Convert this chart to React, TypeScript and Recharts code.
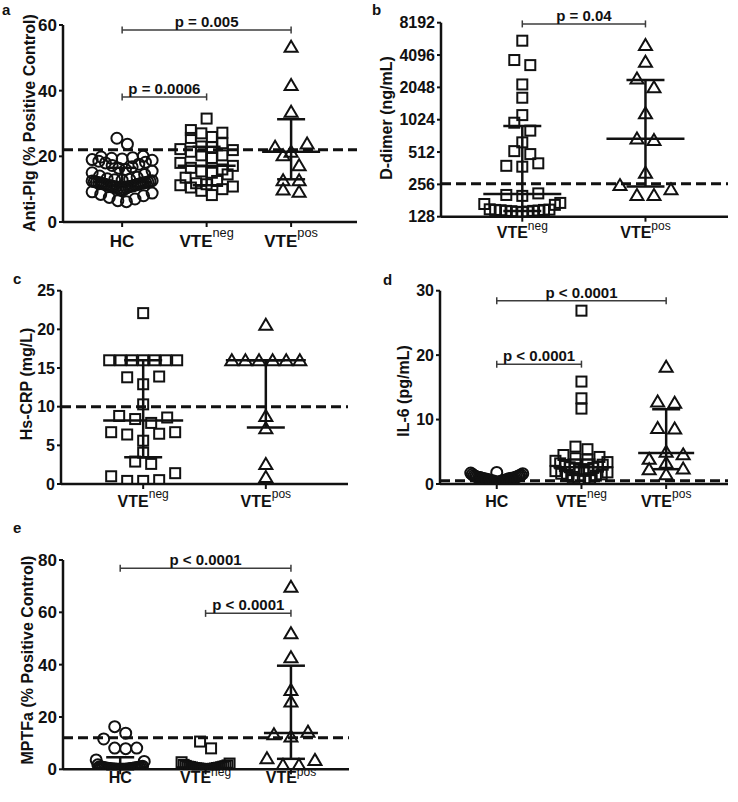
import React from "react";
import { ScatterChart, Scatter, XAxis, YAxis, ReferenceLine } from "recharts";

const FONT = '"Liberation Sans", Arial, Helvetica, sans-serif';
const INK = "#111";
const BRACKET = "#3c3c3c";

// x categories (shared by all panels)
const groupNames = ["HC", "VTE", "VTE"];
const groupSups = ["", "neg", "pos"];
const groupShapes = ["circle", "square", "triangle"];

// a: Anti-Plg (% positive control)
const aHc = [25.5, 23.7, 20, 19.8, 19.6, 19.4, 19.2, 19, 18.8, 18.5, 18.2, 18, 17.6, 17.2, 16.8, 16.4, 16, 15.5, 15, 14.5, 14, 13.6, 13.2, 13, 12.9, 12.8, 12.6, 12.5, 12.4, 12.3, 12.2, 12.1, 12, 12, 11.9, 11.8, 11.8, 11.7, 11.6, 11.5, 11.4, 11.3, 11.2, 11.1, 11, 11, 10.9, 10.8, 10.7, 10.6, 10.4, 10.2, 10, 9.8, 9.6, 9.2, 8.8, 8.4, 8, 7.5, 7, 6.5, 6.2];
const aVteNeg = [31.5, 28, 27.2, 27, 25.9, 25.6, 24, 23, 22.8, 22.2, 21.9, 21.4, 20.3, 20.3, 19.5, 18, 17.1, 16.5, 16, 15.4, 15, 14.5, 13.5, 12.5, 11.8, 11.5, 11.2, 10.8, 10.5, 10, 9.5, 8.2];
const aVtePos = [53.4, 41.7, 33.6, 23.9, 22.9, 21.4, 20.3, 17.3, 12.7, 12.7, 9.9, 9.2];
const aMedian = [12.2, 17.1, 21.4];
const aQ1 = [11, 11.2, 13];
const aQ3 = [16.5, 22.9, 31.3];

// b: D-dimer (ng/mL), log2 axis
const bVteNeg = [5570, 3680, 3300, 2180, 1640, 1130, 960, 810, 630, 522, 490, 402, 381, 374, 211, 204, 200, 172, 168, 165, 150, 149, 148, 148, 147, 146, 145, 145, 144, 143, 142, 141];
const bVtePos = [5080, 3550, 2480, 2050, 1175, 686, 662, 329, 252, 230, 204, 204];
const bMedian = [208, 681];
const bQ1 = [145, 245];
const bQ3 = [893, 2400];

// c: Hs-CRP (mg/L)
const cVteNeg = [22.1, 16, 16, 16, 16, 16, 16, 16, 13.9, 13.8, 12.9, 10.3, 8.8, 8.6, 8.4, 7.9, 6.7, 6.7, 6.5, 6.4, 5.6, 4.05, 2.9, 2.6, 1.4, 1.0, 0.5, 0.4, 0.4];
const cVtePos = [20.6, 16, 16, 16, 16, 16, 16, 8.8, 7.2, 2.6, 0.9];
const cMedian = [8.2, 16];
const cQ1 = [3.45, 7.3];
const cQ3 = [16, 16];

// d: IL-6 (pg/mL)
const dHc = [1.8, 1.7, 1.6, 1.5, 1.4, 1.3, 1.3, 1.2, 1.2, 1.1, 1.1, 1.0, 1.0, 1.0, 0.9, 0.9, 0.9, 0.8, 0.8, 0.8, 0.8, 0.7, 0.7, 0.7, 0.6, 0.6, 0.6, 0.5, 0.5, 0.5, 0.4, 0.4, 0.3, 0.3, 0.2];
const dVteNeg = [26.9, 15.9, 13.3, 11.7, 5.8, 5.4, 4.5, 4.2, 4.0, 3.8, 3.6, 3.4, 3.2, 3.0, 2.8, 2.7, 2.6, 2.5, 2.4, 2.3, 2.2, 2.1, 2.0, 1.8, 1.6, 1.5, 1.4, 1.3, 1.1, 0.9, 0.7, 0.5];
const dVtePos = [18.2, 12.8, 12.6, 8.7, 8.6, 5.0, 4.6, 3.9, 3.3, 2.4, 2.3, 1.5];
const dMedian = [0.8, 2.6, 4.8];
const dQ1 = [0.5, 1.4, 2.3];
const dQ3 = [1.1, 3.8, 11.6];

// e: MPTFa (% positive control)
const eHc = [16.3, 13.8, 11.6, 8.1, 8.1, 7.9, 3.6, 3.0, 1.7, 1.2, 1.0, 1.0, 0.9, 0.8, 0.8, 0.7, 0.6, 0.6, 0.5, 0.5, 0.4, 0.4, 0.3, 0.3, 0.2, 0.2, 0.1, 0.1, 0.1, 0, 0, 0, 0, 0, 0, 0];
const eVteNeg = [10.6, 8.0, 2.7, 2.2, 1.7, 1.5, 1.3, 1.2, 1.0, 1.0, 0.9, 0.8, 0.7, 0.6, 0.5, 0.5, 0.4, 0.3, 0.3, 0.2, 0.2, 0.1, 0.1, 0, 0, 0];
const eVtePos = [69.8, 52, 42.8, 30.3, 25.9, 14.4, 13.4, 12.5, 4.2, 3.6, 1.7, 1.7];
const eMedian = [0.5, 0.5, 13.9];
const eQ1 = [0, 0, 4.0];
const eQ3 = [4.6, 1.5, 39.6];

// significance brackets (category positions are 1-based)
const aBrackets = [
  { from: 1, to: 3, y: 58.5, text: "p = 0.005" },
  { from: 1, to: 2, y: 38.1, text: "p = 0.0006" },
];
const bBrackets = [{ from: 1, to: 2, y: 7980, text: "p = 0.04" }];
const dBrackets = [
  { from: 1, to: 3, y: 28.45, text: "p < 0.0001" },
  { from: 1, to: 2, y: 18.6, text: "p < 0.0001" },
];
const eBrackets = [
  { from: 1, to: 3, y: 76.8, text: "p < 0.0001" },
  { from: 2, to: 3, y: 59.6, text: "p < 0.0001" },
];

type Bracket = { from: number; to: number; y: number; text: string };

type PanelSpec = {
  letter: string;
  box: number[]; // left, top, width, height (page)
  plot: number[]; // l, t, r, b inside the box
  xDomain: [number, number];
  groups: number[];
  series: number[][];
  median: number[];
  q1: number[];
  q3: number[];
  yDomain: [number, number];
  yTicks: number[];
  log?: boolean;
  cutoff: number;
  brackets: Bracket[];
  yLabel: string;
  yLabelAt: number[];
  letterAt: number[];
  tickFont: number;
  xFont: number;
  xBase: number;
  supRise: number;
  spread: number;
  step: number;
  triStep: number;
  medHalf: number;
  capHalf: number;
};

// scatter-dot-plot layout: values that sit close together are put side by side
function swarmOffsets(values: number[], toPx: (v: number) => number, step: number, maxHalf: number, rowPx: number) {
  const order = values.map((_, i) => i).sort((a, b) => values[a] - values[b]);
  const out: number[] = values.map(() => 0);
  let row: number[] = [];
  let start = 0;
  const place = () => {
    const n = row.length;
    if (!n) return;
    const slots = row.map((_, k) => Math.ceil(k / 2) * (k % 2 ? -1 : 1));
    const mean = slots.reduce((s, v) => s + v, 0) / n;
    const span = Math.max(...slots) - Math.min(...slots);
    const gap = span > 0 ? Math.min(step, (2 * maxHalf) / span) : 0;
    row.forEach((idx, k) => {
      out[idx] = (slots[k] - mean) * gap;
    });
    row = [];
  };
  order.forEach((idx) => {
    const px = toPx(values[idx]);
    if (row.length && px - start > rowPx) place();
    if (!row.length) start = px;
    row.push(idx);
  });
  place();
  return out;
}

const markers: Record<string, (p: any) => React.ReactElement> = {
  circle: (p) => <circle cx={p.cx} cy={p.cy} r={5.5} fill="none" stroke={INK} strokeWidth={2} />,
  square: (p) => <rect x={p.cx - 5} y={p.cy - 5} width={10} height={10} fill="none" stroke={INK} strokeWidth={2} />,
  triangle: (p) => (
    <path d={`M${p.cx},${p.cy - 6}L${p.cx + 6.5},${p.cy + 5}L${p.cx - 6.5},${p.cy + 5}Z`} fill="none" stroke={INK} strokeWidth={2} />
  ),
};

function Panel({ spec }: { spec: PanelSpec }) {
  const [bl, bt, bw, bh] = spec.box;
  const [pl, pt, pr, pb] = spec.plot;
  const xppu = (pr - pl) / (spec.xDomain[1] - spec.xDomain[0]);
  const tf = spec.log ? (v: number) => Math.log2(v) : (v: number) => v;
  const inv = spec.log ? (u: number) => Math.pow(2, u) : (u: number) => u;
  const yppu = (pb - pt) / (tf(spec.yDomain[1]) - tf(spec.yDomain[0]));
  const toPx = (v: number) => tf(v) * yppu;
  const shiftY = (v: number, px: number) => inv(tf(v) + px / yppu);
  const med = spec.medHalf / xppu;
  const cap = spec.capHalf / xppu;

  const lines: React.ReactElement[] = [];
  spec.groups.forEach((g, i) => {
    const c = i + 1;
    lines.push(
      <ReferenceLine key={`m${i}`} ifOverflow="visible" stroke={INK} strokeWidth={2.5}
        segment={[{ x: c - med, y: spec.median[i] }, { x: c + med, y: spec.median[i] }]} />,
      <ReferenceLine key={`w${i}`} ifOverflow="visible" stroke={INK} strokeWidth={2.5}
        segment={[{ x: c, y: spec.q1[i] }, { x: c, y: spec.q3[i] }]} />,
      <ReferenceLine key={`l${i}`} ifOverflow="visible" stroke={INK} strokeWidth={2.5}
        segment={[{ x: c - cap, y: spec.q1[i] }, { x: c + cap, y: spec.q1[i] }]} />,
      <ReferenceLine key={`u${i}`} ifOverflow="visible" stroke={INK} strokeWidth={2.5}
        segment={[{ x: c - cap, y: spec.q3[i] }, { x: c + cap, y: spec.q3[i] }]} />
    );
  });
  spec.brackets.forEach((br, i) => {
    const lo = shiftY(br.y, -3.5);
    const hi = shiftY(br.y, 3.5);
    lines.push(
      <ReferenceLine key={`b${i}`} ifOverflow="visible" stroke={BRACKET} strokeWidth={1.5}
        segment={[{ x: br.from, y: br.y }, { x: br.to, y: br.y }]}
        label={{ value: br.text, position: "top", offset: 3, fill: INK, fontSize: 15, fontWeight: 700, fontFamily: FONT }} />,
      <ReferenceLine key={`bl${i}`} ifOverflow="visible" stroke={BRACKET} strokeWidth={1.5}
        segment={[{ x: br.from, y: lo }, { x: br.from, y: hi }]} />,
      <ReferenceLine key={`br${i}`} ifOverflow="visible" stroke={BRACKET} strokeWidth={1.5}
        segment={[{ x: br.to, y: lo }, { x: br.to, y: hi }]} />
    );
  });

  const xTick = (props: any) => {
    const { x, y, payload } = props;
    const g = spec.groups[Math.round(payload.value) - 1];
    if (g === undefined) return <g />;
    return (
      <text x={x} y={y - 5 + spec.xBase} textAnchor="middle" fontFamily={FONT} fontWeight={700} fontSize={spec.xFont} fill={INK}>
        {groupNames[g]}
        {groupSups[g] ? (
          <tspan dy={-spec.supRise} fontSize={spec.xFont * 0.75} fontWeight={400}>
            {groupSups[g]}
          </tspan>
        ) : null}
      </text>
    );
  };

  return (
    <div style={{ position: "absolute", left: bl, top: bt, width: bw, height: bh }}>
      <ScatterChart width={bw} height={bh} margin={{ top: pt, right: bw - pr, bottom: bh - pb - 10, left: 0 }}>
        <XAxis type="number" dataKey="x" domain={spec.xDomain} ticks={spec.groups.map((_, i) => i + 1)} allowDataOverflow
          height={10} tickSize={5} tickMargin={0} tick={xTick} interval={0}
          axisLine={{ stroke: INK, strokeWidth: 2.5 }} tickLine={{ stroke: INK, strokeWidth: 2 }} />
        <YAxis type="number" dataKey="y" domain={spec.yDomain} ticks={spec.yTicks} allowDataOverflow interval={0}
          scale={spec.log ? "log" : "linear"} width={pl} tickSize={4} tickMargin={2}
          tick={{ fill: INK, fontSize: spec.tickFont, fontWeight: 700, fontFamily: FONT }}
          axisLine={{ stroke: INK, strokeWidth: 2.5 }} tickLine={{ stroke: INK, strokeWidth: 2 }} />
        <ReferenceLine y={spec.cutoff} stroke={INK} strokeWidth={3} strokeDasharray="10 5" ifOverflow="visible" />
        {spec.groups.map((g, i) => {
          const vals = spec.series[i];
          const step = groupShapes[g] === "triangle" ? spec.triStep : spec.step;
          const offs = swarmOffsets(vals, toPx, step, spec.spread, 10);
          const data = vals.map((v, k) => ({ x: i + 1 + offs[k] / xppu, y: v }));
          return <Scatter key={g} data={data} shape={markers[groupShapes[g]]} isAnimationActive={false} />;
        })}
        {lines}
      </ScatterChart>
    </div>
  );
}

const panels: PanelSpec[] = [
  {
    letter: "a", box: [0, 0, 370, 260], plot: [63, 25, 357, 222], xDomain: [0.3, 3.78], groups: [0, 1, 2],
    series: [aHc, aVteNeg, aVtePos], median: aMedian, q1: aQ1, q3: aQ3,
    yDomain: [0, 60], yTicks: [0, 20, 40, 60], cutoff: 22, brackets: aBrackets,
    yLabel: "Anti-Plg (% Positive Control)", yLabelAt: [29, 123], letterAt: [2, 15],
    tickFont: 17, xFont: 17, xBase: 25, supRise: 10, spread: 30, step: 10.5, triStep: 16, medHalf: 29, capHalf: 14,
  },
  {
    letter: "b", box: [370, 0, 368, 260], plot: [71, 22.7, 358, 216.7], xDomain: [0.34, 2.67], groups: [1, 2],
    series: [bVteNeg, bVtePos], median: bMedian, q1: bQ1, q3: bQ3, log: true,
    yDomain: [128, 8192], yTicks: [128, 256, 512, 1024, 2048, 4096, 8192], cutoff: 260, brackets: bBrackets,
    yLabel: "D-dimer (ng/mL)", yLabelAt: [386, 118], letterAt: [372, 15],
    tickFont: 16, xFont: 16, xBase: 21, supRise: 8, spread: 38, step: 16, triStep: 17, medHalf: 39, capHalf: 19,
  },
  {
    letter: "c", box: [0, 260, 370, 260], plot: [61, 30.7, 348, 224], xDomain: [0.33, 2.67], groups: [1, 2],
    series: [cVteNeg, cVtePos], median: cMedian, q1: cQ1, q3: cQ3,
    yDomain: [0, 25], yTicks: [0, 5, 10, 15, 20, 25], cutoff: 10, brackets: [],
    yLabel: "Hs-CRP (mg/L)", yLabelAt: [26, 384], letterAt: [13, 284],
    tickFont: 16, xFont: 16, xBase: 23, supRise: 9, spread: 34, step: 16, triStep: 14, medHalf: 40, capHalf: 19,
  },
  {
    letter: "d", box: [370, 260, 368, 260], plot: [70, 30.7, 358, 224], xDomain: [0.33, 3.73], groups: [0, 1, 2],
    series: [dHc, dVteNeg, dVtePos], median: dMedian, q1: dQ1, q3: dQ3,
    yDomain: [0, 30], yTicks: [0, 10, 20, 30], cutoff: 0.5, brackets: dBrackets,
    yLabel: "IL-6 (pg/mL)", yLabelAt: [403, 391], letterAt: [383, 285],
    tickFont: 16, xFont: 16, xBase: 23, supRise: 9, spread: 26, step: 12, triStep: 17, medHalf: 28, capHalf: 14,
  },
  {
    letter: "e", box: [0, 520, 370, 282], plot: [63, 40, 349, 249.3], xDomain: [0.33, 3.68], groups: [0, 1, 2],
    series: [eHc, eVteNeg, eVtePos], median: eMedian, q1: eQ1, q3: eQ3,
    yDomain: [0, 80], yTicks: [0, 20, 40, 60, 80], cutoff: 12.1, brackets: eBrackets,
    yLabel: "MPTFa (% Positive Control)", yLabelAt: [27.5, 660], letterAt: [13, 533],
    tickFont: 17, xFont: 16, xBase: 14, supRise: 7, spread: 24, step: 11, triStep: 17, medHalf: 27, capHalf: 14,
  },
];

export default function App() {
  return (
    <div style={{ position: "relative", width: 738, height: 802, background: "#fff", overflow: "hidden" }}>
      <style>{"body{margin:0}"}</style>
      {panels.map((p) => (
        <Panel key={p.letter} spec={p} />
      ))}
      <svg width={738} height={802} style={{ position: "absolute", left: 0, top: 0, pointerEvents: "none" }}>
        {panels.map((p) => (
          <g key={p.letter} fontFamily={FONT} fontWeight={700} fill={INK}>
            <text x={p.letterAt[0]} y={p.letterAt[1]} fontSize={15}>{p.letter}</text>
            <text transform={`translate(${p.yLabelAt[0]},${p.yLabelAt[1]}) rotate(-90)`} textAnchor="middle" dominantBaseline="central" fontSize={16}>
              {p.yLabel}
            </text>
          </g>
        ))}
      </svg>
    </div>
  );
}
